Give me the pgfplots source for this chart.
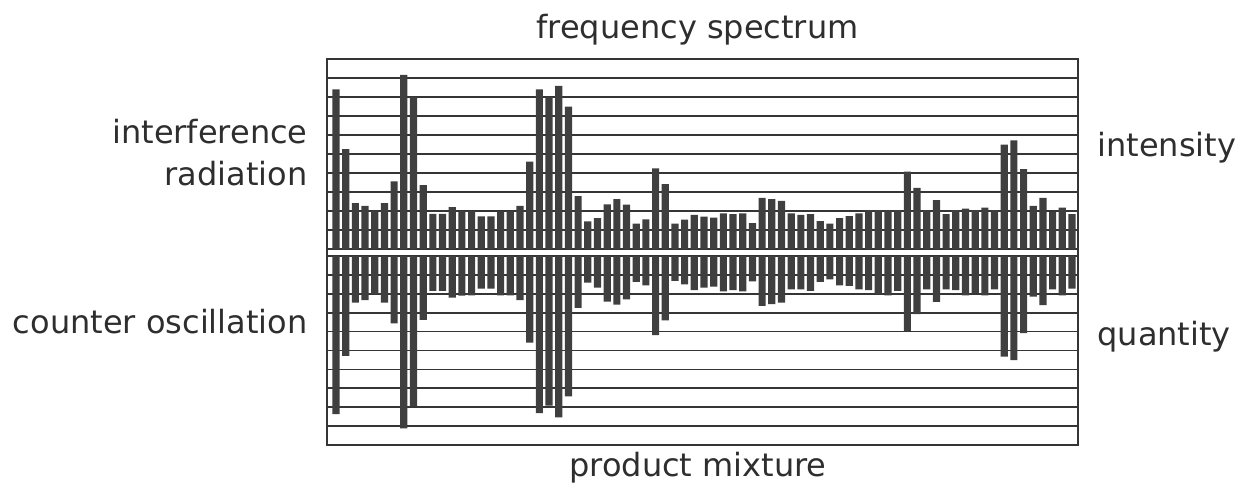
\documentclass[border=0pt]{standalone}
\usepackage{pgfplots}
\pgfplotsset{compat=1.18}
\usepackage{pgfplotstable}
\usepackage{fontspec}
\setmainfont{DejaVu Sans}

\definecolor{bargray}{HTML}{3F3F3F}
\definecolor{linegray}{HTML}{353535}
\definecolor{textgray}{HTML}{2E2E2E}

% n = line position, up = intensity (upper panel), low = quantity (lower panel)
\pgfplotstableread{
n up low
1 8.40 8.36
2 5.26 5.28
3 2.42 2.46
4 2.27 2.34
5 2.02 2.02
6 2.42 2.46
7 3.56 3.57
8 9.17 9.12
9 8.00 7.96
10 3.36 3.38
11 1.85 1.85
12 1.85 1.85
13 2.20 2.20
14 2.00 2.10
15 2.00 2.08
16 1.72 1.73
17 1.72 1.73
18 1.98 2.08
19 1.98 2.08
20 2.27 2.34
21 4.60 4.58
22 8.40 8.31
23 8.00 7.92
24 8.58 8.54
25 7.49 7.43
26 2.78 2.75
27 1.45 1.41
28 1.63 1.67
29 2.35 2.41
30 2.62 2.57
31 2.34 2.29
32 1.33 1.37
33 1.56 1.55
34 4.25 4.19
35 3.42 3.40
36 1.33 1.32
37 1.54 1.50
38 1.80 1.81
39 1.70 1.67
40 1.65 1.62
41 1.88 1.87
42 1.84 1.81
43 1.88 1.87
44 1.36 1.34
45 2.69 2.64
46 2.62 2.55
47 2.53 2.46
48 1.88 1.76
49 1.80 1.76
50 1.84 1.85
51 1.47 1.37
52 1.33 1.23
53 1.62 1.55
54 1.73 1.58
55 1.88 1.76
56 2.05 1.81
57 2.05 2.02
58 2.05 2.08
59 2.05 1.85
60 4.07 3.96
61 3.22 3.08
62 2.05 1.76
63 2.57 2.43
64 1.84 1.76
65 2.04 1.80
66 2.12 2.08
67 2.04 1.97
68 2.18 2.08
69 2.04 1.76
70 5.49 5.33
71 5.72 5.51
72 4.21 4.08
73 2.27 2.15
74 2.69 2.60
75 1.95 1.76
76 2.18 2.08
77 1.84 1.73
}\spectrum

\pgfplotsset{
  panel/.style={
    scale only axis,
    width=375.5pt,
    xmin=0.07, xmax=77.62,
    ymin=0, ymax=10,
    xtick=\empty,
    ytick={1,...,9},
    yticklabels={},
    major tick length=0pt,
    ymajorgrids,
    grid style={linegray, line width=0.85pt},
    axis line style={linegray, line width=0.85pt},
    ybar,
    bar width=0.74,
  },
}

\begin{document}
\begin{tikzpicture}
\fontsize{16pt}{19pt}\selectfont
\path (0,0) rectangle (618.5pt,242pt);

\begin{axis}[panel, height=95pt, at={(163.5pt,117.5pt)}, anchor=south west]
\addplot[fill=bargray, draw=none] table[x=n, y=up] {\spectrum};
\end{axis}

\begin{axis}[panel, height=94.5pt, y dir=reverse, at={(163.5pt,114pt)}, anchor=north west]
\addplot[fill=bargray, draw=none] table[x=n, y=low] {\spectrum};
\end{axis}

\draw[linegray, line width=0.85pt] (163.5pt,19.5pt) rectangle (539pt,212.5pt);

\begin{scope}[every node/.style={inner sep=0pt, text=textgray}]
\node[anchor=base] at (348.75pt,223pt) {frequency spectrum};
\node[anchor=base] at (349pt,4pt) {product mixture};
\node[anchor=base east] at (154pt,170.5pt) {interference};
\node[anchor=base east] at (154pt,149.5pt) {radiation};
\node[anchor=base east] at (154pt,75.5pt) {counter oscillation};
\node[anchor=base west] at (548.5pt,164pt) {intensity};
\node[anchor=base west] at (548.5pt,69.5pt) {quantity};
\end{scope}
\end{tikzpicture}
\end{document}
